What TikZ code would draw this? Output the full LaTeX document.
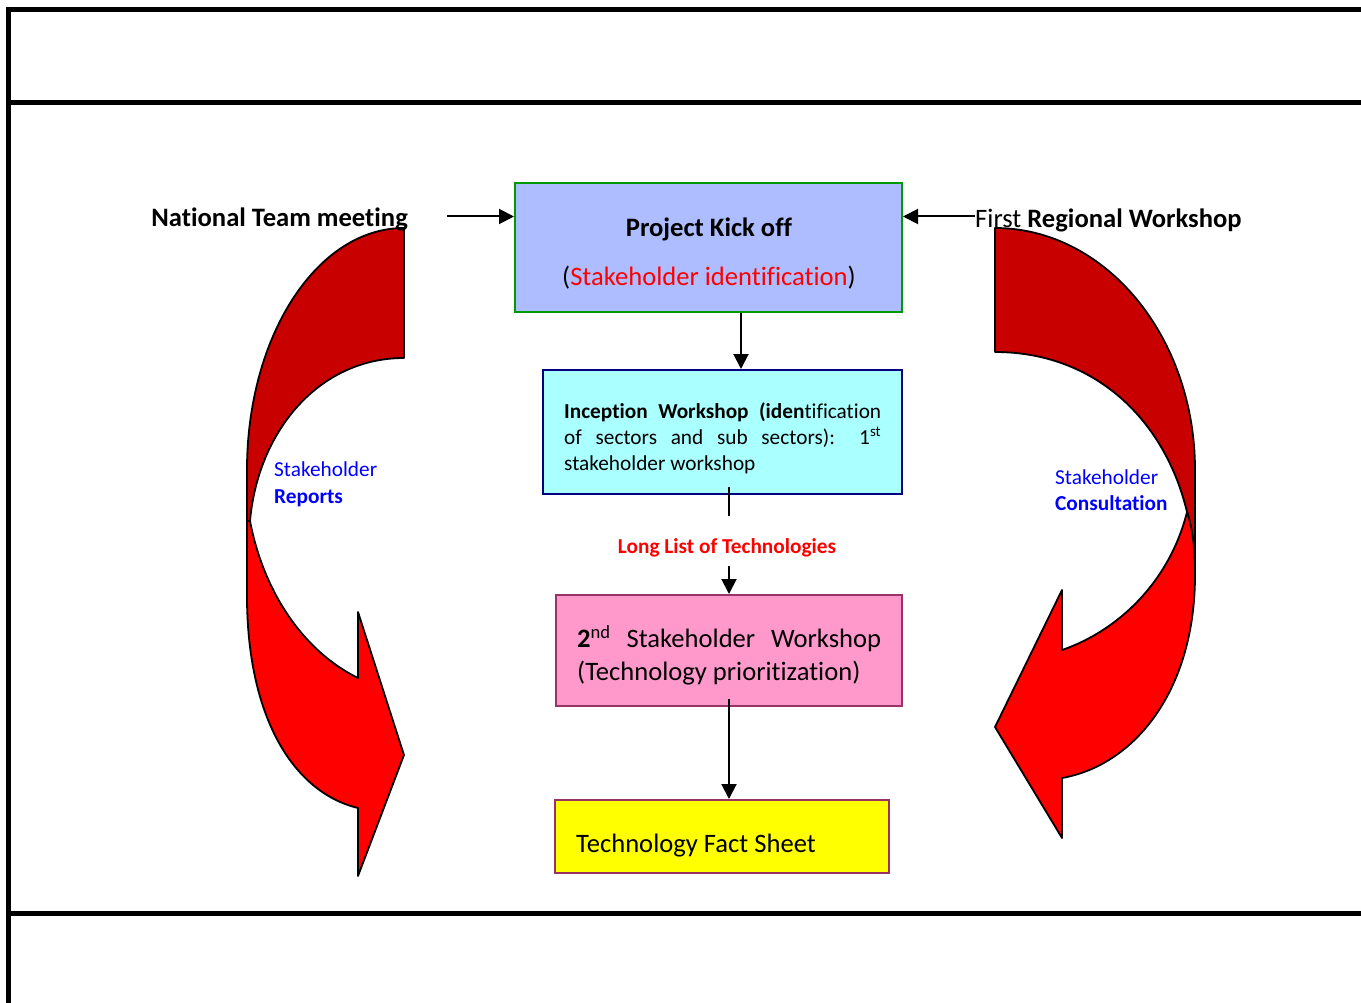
\documentclass[tikz,border=0pt]{standalone}
\usepackage{fontspec}
\setmainfont{Carlito}[Ligatures=NoCommon]
\usetikzlibrary{arrows.meta}
\definecolor{kickblue}{RGB}{173,189,255}
\definecolor{kickgreen}{RGB}{0,153,0}
\definecolor{incepcyan}{RGB}{170,255,255}
\definecolor{incepnavy}{RGB}{0,0,128}
\definecolor{prioritypink}{RGB}{255,153,204}
\definecolor{plumline}{RGB}{153,51,102}
\definecolor{darkband}{RGB}{200,0,0}
\definecolor{factyellow}{RGB}{255,255,0}
\tikzset{
  bigtext/.style={font=\fontsize{26.6}{33}\selectfont, inner sep=0pt},
  smalltext/.style={font=\fontsize{21.3}{26}\selectfont, inner sep=0pt},
  stagebox/.style={draw, line width=2pt, inner sep=0pt},
  flow/.style={line width=2pt, -{Triangle[length=15pt,width=15pt]}},
  band/.style={draw=black, line width=1.8pt, line join=round},
}
\begin{document}
\begin{tikzpicture}[x=1pt,y=1pt,yscale=-1]
\useasboundingbox (0,0) rectangle (1361,1003);
% frame
\draw [line width=5pt] (8.5,7.5) -- (8.5,1003);
\draw [line width=5pt] (6,10) -- (1361,10);
\draw [line width=5pt] (6,103) -- (1361,103);
\draw [line width=5pt] (6,913) -- (1361,913);
% left curved arrow
\draw [band, fill=red] (250,521) -- (247,512) -- (247,596) .. controls (247,715) and (292,792) .. (358,808) -- (358,876) -- (404,755) -- (358,612) -- (358,678) .. controls (305,652) and (264,594) .. (250,521) -- cycle;
\draw [band, fill=darkband] (404,228) .. controls (317,228) and (247,336) .. (247,470) -- (247,521) -- (250,521) .. controls (258,431) and (319,358) .. (404,358) -- cycle;
% right curved arrow
\draw [band, fill=darkband] (995,228) .. controls (1105,228) and (1195,336) .. (1195,470) -- (1195,572) .. controls (1195,550) and (1192,528) .. (1187,512) .. controls (1165,420) and (1095,352) .. (995,352) -- cycle;
\draw [band, fill=red] (1187,512) .. controls (1193,530) and (1195,550) .. (1195,575) .. controls (1195,690) and (1135,765) .. (1062,778) -- (1062,838) -- (995,727) -- (1062,590) -- (1062,650) .. controls (1120,630) and (1170,580) .. (1187,512) -- cycle;
% boxes
\node [stagebox, draw=kickgreen, fill=kickblue, minimum width=387pt, minimum height=129pt] (kick) at (708.5,247.5) {};
\node [stagebox, draw=incepnavy, fill=incepcyan, minimum width=359pt, minimum height=124pt] (incep) at (722.5,432) {};
\node [stagebox, draw=plumline, fill=prioritypink, minimum width=346pt, minimum height=111pt] (pink) at (729,650.5) {};
\node [stagebox, draw=plumline, fill=factyellow, minimum width=334pt, minimum height=73pt] (fact) at (722,836.5) {};
% texts
\node [bigtext, anchor=base] (kicktitle) at (709,236.5) {\textbf{Project Kick off}};
\node [bigtext, anchor=base] (kicknote) at (709,285.5) {(\textcolor{red}{Stakeholder identification})};
\node [smalltext, anchor=base west, text width=317pt, align=justify] (inceptext) at (564,418)
  {\textbf{Inception Workshop (iden}tification\linebreak of sectors and sub sectors): 1\textsuperscript{st}\linebreak stakeholder workshop};
\node [smalltext, text=red, anchor=base] (longlist) at (727,553.5) {\textbf{Long List of Technologies}};
\node [bigtext, anchor=base west, text width=304pt, align=justify] (pinktext) at (577,647.5)
  {\textbf{2}\textsuperscript{nd} Stakeholder Workshop\linebreak (Technology prioritization)};
\node [bigtext, anchor=base west] (facttext) at (576,852.5) {Technology Fact Sheet};
\node [bigtext, anchor=base east] (national) at (408,227) {\textbf{National Team meeting}};
\node [bigtext, anchor=base west] (regional) at (975,228) {First \textbf{Regional Workshop}};
\node [smalltext, text=blue, anchor=base west] (reportsa) at (274,476) {Stakeholder};
\node [smalltext, text=blue, anchor=base west] (reportsb) at (274,503) {\textbf{Reports}};
\node [smalltext, text=blue, anchor=base west] (consulta) at (1055,484) {Stakeholder};
\node [smalltext, text=blue, anchor=base west] (consultb) at (1055,510) {\textbf{Consultation}};
% connectors
\coordinate (natstart) at (447,216.5);
\coordinate (regstart) at (975,216.5);
\draw [flow] (natstart) -- (natstart -| kick.west);
\draw [flow] (regstart) -- (regstart -| kick.east);
\draw [flow] (kick.south) ++(32.5,0) coordinate (kickout) -- (kickout |- incep.north);
\draw [line width=2pt] (incep.south -| pink.north) ++(0,-8) -- ++(0,29);
\draw [flow] (longlist.south -| pink.north) ++(0,8.5) -- (pink.north);
\draw [flow] (pink.south) ++(0,-8) -- (fact.north -| pink.south);
\end{tikzpicture}
\end{document}
